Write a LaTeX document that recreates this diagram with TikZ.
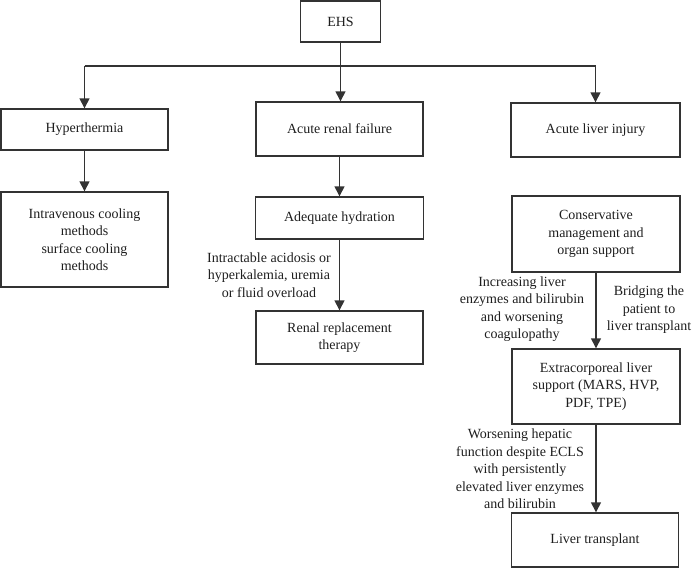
\documentclass[tikz,border=0pt]{standalone}
\usepackage{fontspec}
\setmainfont{Liberation Serif}
\usetikzlibrary{arrows.meta}
\definecolor{linec}{HTML}{333333}
\definecolor{textc}{HTML}{1E1E1E}
\tikzset{
  box/.style={draw=linec, line width=1.4pt, rectangle, inner sep=0pt, align=center,
    text=textc, font=\fontsize{14}{17.5}\selectfont},
  lbl/.style={inner sep=0pt, align=center, text=textc, font=\fontsize{14}{17.5}\selectfont},
  arr/.style={draw=linec, line width=1.4pt, -{Triangle[width=10pt,length=10pt]}},
  ln/.style={draw=linec, line width=1.4pt}
}
\begin{document}
\begin{tikzpicture}[x=1pt,y=-1pt]
\useasboundingbox (0,0) rectangle (694,582);
\node[box, minimum width=80pt, minimum height=41pt] (ehs) at (340.5,21.5) {EHS};
\node[box, minimum width=167pt, minimum height=41pt] (hyp) at (84.5,129.5) {Hyperthermia};
\node[box, minimum width=167pt, minimum height=54pt] (arf) at (339.5,129) {Acute renal failure};
\node[box, minimum width=169pt, minimum height=54pt] (ali) at (595.5,130) {Acute liver injury};
\node[box, minimum width=167pt, minimum height=95pt] (iv) at (84.5,239.5) {Intravenous cooling\\methods\\surface cooling\\methods};
\node[box, minimum width=168pt, minimum height=42pt] (ah) at (339.5,218) {Adequate hydration};
\node[box, minimum width=167pt, minimum height=53pt] (rrt) at (339.5,337.5) {Renal replacement\\therapy};
\node[box, minimum width=168pt, minimum height=76pt] (cons) at (596,234) {Conservative\\management and\\organ support};
\node[box, minimum width=168pt, minimum height=75pt] (ecls) at (596,386.5) {Extracorporeal liver\\support (MARS, HVP,\\PDF, TPE)};
\node[box, minimum width=167pt, minimum height=54pt] (lt) at (595,540) {Liver transplant};

\node[lbl] (lrenal) at (269,275) {Intractable acidosis or\\hyperkalemia, uremia\\or fluid overload};
\node[lbl] (linc) at (522,309) {Increasing liver\\enzymes and bilirubin\\and worsening\\coagulopathy};
\node[lbl] (lbr) at (649,310) {Bridging the\\patient to\\liver transplant};
\node[lbl] (lwor) at (520,469) {Worsening hepatic\\function despite ECLS\\with persistently\\elevated liver enzymes\\and bilirubin};

\coordinate (bus) at (340.5,66);
\draw[arr] (ehs.south) -- (ehs.south |- arf.north);
\draw[ln] (hyp.north |- bus) -- (ali.north |- bus);
\draw[arr] (hyp.north |- bus) -- (hyp.north);
\draw[arr] (ali.north |- bus) -- (ali.north);
\draw[arr] (hyp.south) -- (iv.north);
\draw[arr] (arf.south) -- (arf.south |- ah.north);
\draw[arr] (ah.south) -- (ah.south |- rrt.north);
\draw[arr] (cons.south) -- (ecls.north);
\draw[arr] (ecls.south) -- (ecls.south |- lt.north);
\end{tikzpicture}
\end{document}
